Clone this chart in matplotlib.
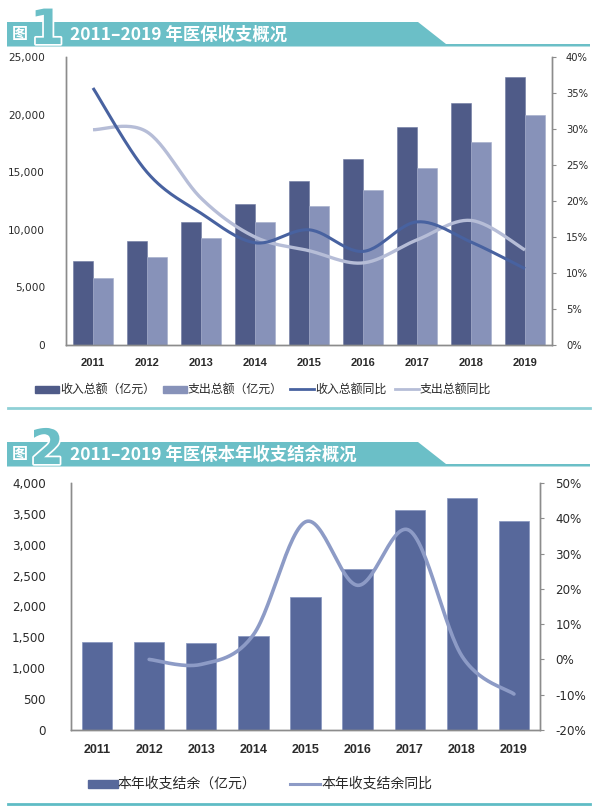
import numpy as np
import matplotlib
matplotlib.use("Agg")
import matplotlib.pyplot as plt
from matplotlib.patches import Polygon, Rectangle
from matplotlib.lines import Line2D
from matplotlib.ticker import FuncFormatter, MultipleLocator
import matplotlib.patheffects as pe

plt.rcParams['font.family'] = ['Noto Sans CJK SC', 'DejaVu Sans']

# ---------------- data ----------------
years = ['2011', '2012', '2013', '2014', '2015', '2016', '2017', '2018', '2019']
income = [7300, 9060, 10710, 12210, 14240, 16120, 18950, 21040, 23290]
expense = [5850, 7610, 9260, 10710, 12070, 13480, 15340, 17590, 19940]
income_yoy = [35.7, 24.0, 18.3, 14.2, 16.0, 13.0, 17.1, 14.3, 10.6]
expense_yoy = [29.9, 29.6, 20.4, 15.0, 13.1, 11.4, 14.6, 17.3, 13.2]

surplus = [1430, 1430, 1410, 1530, 2150, 2600, 3570, 3760, 3390]
surplus_yoy = [None, 0.0, -1.4, 7.0, 39.0, 21.0, 36.5, 1.0, -9.8]

title1 = '2011–2019 年医保收支概况'
title2 = '2011–2019 年医保本年收支结余概况'
leg1 = ['收入总额（亿元）', '支出总额（亿元）', '收入总额同比', '支出总额同比']
leg2 = ['本年收支结余（亿元）', '本年收支结余同比']

# ---------------- style ----------------
TEAL = '#6bbfc7'
DARK = '#4f5b88'
LIGHT = '#8792b9'
LINE_INC = '#4862a0'
LINE_EXP = '#b6bdd7'
BAR2 = '#57689b'
LINE2 = '#8d9bc6'
AXC = '#8c8c8c'
TXT = '#2a2a2a'

W, H = 600, 811
fig = plt.figure(figsize=(W / 100, H / 100), dpi=100)


def smooth(xs, ys, n=30):
    """Excel-like smoothed line (Catmull-Rom Bezier) through the points."""
    xs = np.asarray(xs, float)
    ys = np.asarray(ys, float)
    P = np.column_stack([xs, ys])
    out = []
    m = len(P)
    for i in range(m - 1):
        p0 = P[i - 1] if i > 0 else P[i]
        p1 = P[i]
        p2 = P[i + 1]
        p3 = P[i + 2] if i + 2 < m else P[i + 1]
        c1 = p1 + (p2 - p0) / 6.0
        c2 = p2 - (p3 - p1) / 6.0
        t = np.linspace(0, 1, n)[:, None]
        seg = ((1 - t) ** 3) * p1 + 3 * ((1 - t) ** 2) * t * c1 + 3 * (1 - t) * t ** 2 * c2 + t ** 3 * p2
        out.append(seg if i == 0 else seg[1:])
    s = np.vstack(out)
    return s[:, 0], s[:, 1]


def fig_rect(x0, y0, x1, y1):
    return [x0 / W, 1 - y1 / H, (x1 - x0) / W, (y1 - y0) / H]


def style_axes(ax, axr):
    for a in (ax, axr):
        a.spines['top'].set_visible(False)
        for s in ('left', 'right', 'bottom'):
            a.spines[s].set_color(AXC)
            a.spines[s].set_linewidth(1.0)
    ax.tick_params(axis='y', length=0, colors=TXT)
    ax.tick_params(axis='x', length=0, colors=TXT)
    axr.tick_params(axis='y', length=3, direction='out', color=AXC, colors=TXT)


# ---------------- chart 1 ----------------
x = np.arange(len(years))
ax1 = fig.add_axes(fig_rect(66, 57, 552, 345))
bw = 0.365
ax1.bar(x - bw / 2, income, width=bw, color=DARK, edgecolor='#6d78a0', linewidth=0.4, zorder=2)
ax1.bar(x + bw / 2, expense, width=bw, color=LIGHT, edgecolor='#a3acca', linewidth=0.4, zorder=2)
ax1.set_xlim(-0.5, len(years) - 0.5)
ax1.set_ylim(0, 25000)
ax1.yaxis.set_major_locator(MultipleLocator(5000))
ax1.yaxis.set_major_formatter(FuncFormatter(lambda v, p: f'{int(v):,}'))
ax1.set_xticks(x)
ax1.set_xticklabels(years, fontfamily='Liberation Sans', fontweight='bold', fontsize=8)
for lab in ax1.get_yticklabels():
    lab.set_fontfamily('DejaVu Sans')
    lab.set_fontsize(7.6)
ax1.tick_params(axis='y', pad=15)
ax1.tick_params(axis='x', pad=9)

ax1r = ax1.twinx()
ax1r.set_ylim(0, 40)
ax1r.yaxis.set_major_locator(MultipleLocator(5))
ax1r.yaxis.set_major_formatter(FuncFormatter(lambda v, p: f'{int(round(v))}%'))
sx, sy = smooth(x, expense_yoy)
ax1r.plot(sx, sy, color=LINE_EXP, lw=2.4, solid_capstyle='butt', zorder=3)
sx, sy = smooth(x, income_yoy)
ax1r.plot(sx, sy, color=LINE_INC, lw=2.2, solid_capstyle='butt', zorder=4)
for lab in ax1r.get_yticklabels():
    lab.set_fontfamily('DejaVu Sans')
    lab.set_fontsize(7.2)
ax1r.tick_params(axis='y', pad=7)
style_axes(ax1, ax1r)

# ---------------- chart 2 ----------------
ax2 = fig.add_axes(fig_rect(71, 483, 540, 730))
x2 = np.arange(len(years))
ax2.bar(x2, surplus, width=0.58, color=BAR2, edgecolor='#8594bf', linewidth=0.5, zorder=2)
ax2.set_xlim(-0.5, len(years) - 0.5)
ax2.set_ylim(0, 4000)
ax2.yaxis.set_major_locator(MultipleLocator(500))
ax2.yaxis.set_major_formatter(FuncFormatter(lambda v, p: f'{int(v):,}'))
ax2.set_xticks(x2)
ax2.set_xticklabels(years, fontfamily='Liberation Sans', fontweight='bold', fontsize=9)
for lab in ax2.get_yticklabels():
    lab.set_fontfamily('DejaVu Sans')
    lab.set_fontsize(8.6)
ax2.tick_params(axis='y', pad=18)
ax2.tick_params(axis='x', pad=10)

ax2r = ax2.twinx()
ax2r.set_ylim(-20, 50)
ax2r.yaxis.set_major_locator(MultipleLocator(10))
ax2r.yaxis.set_major_formatter(FuncFormatter(lambda v, p: f'{int(round(v))}%'))
gx = [xi for xi, v in zip(x2, surplus_yoy) if v is not None]
gy = [v for v in surplus_yoy if v is not None]
sx, sy = smooth(gx, gy)
ax2r.plot(sx, sy, color=LINE2, lw=2.6, solid_capstyle='round', zorder=3)
for lab in ax2r.get_yticklabels():
    lab.set_fontfamily('DejaVu Sans')
    lab.set_fontsize(8.6)
ax2r.tick_params(axis='y', pad=8)
style_axes(ax2, ax2r)

# ---------------- overlay: title bars, legends, separators ----------------
ov = fig.add_axes([0, 0, 1, 1], zorder=10)
ov.set_xlim(0, W)
ov.set_ylim(H, 0)
ov.axis('off')
ov.patch.set_alpha(0)


def title_bar(y0, num, text):
    y1 = y0 + 24.5
    poly = Polygon([(7, y0), (418, y0), (446, y1 - 2.5), (590, y1 - 2.5), (590, y1), (7, y1)],
                   closed=True, facecolor=TEAL, edgecolor='none')
    ov.add_patch(poly)
    ov.text(20, y0 + 12.5, '图', color='white', fontsize=11.5, fontweight='bold',
            ha='center', va='center')
    ov.text(47, y1 - 2.5, num, color=TEAL, fontsize=35, fontweight='heavy',
            fontfamily='DejaVu Sans', ha='center', va='baseline',
            path_effects=[pe.withStroke(linewidth=2.5, foreground='white')])
    ov.text(70, y0 + 12.5, text, color='white', fontsize=12.5, fontweight='bold',
            ha='left', va='center')


title_bar(22, '1', title1)
title_bar(442, '2', title2)

# separators
ov.add_line(Line2D([8, 590], [408, 408], color='#8fd0d6', lw=2))
ov.add_line(Line2D([8, 590], [804, 804], color='#5fbcc5', lw=2))

# legend 1
ly = 389
ov.add_patch(Rectangle((35, ly - 3.5), 24, 7, color=DARK))
ov.text(60, ly, leg1[0], fontsize=8.6, color=TXT, va='center', ha='left', fontweight='medium')
ov.add_patch(Rectangle((163, ly - 3.5), 24, 7, color=LIGHT))
ov.text(188, ly, leg1[1], fontsize=8.6, color=TXT, va='center', ha='left', fontweight='medium')
ov.add_line(Line2D([290, 314], [ly, ly], color=LINE_INC, lw=2))
ov.text(315, ly, leg1[2], fontsize=8.6, color=TXT, va='center', ha='left', fontweight='medium')
ov.add_line(Line2D([395, 419], [ly, ly], color=LINE_EXP, lw=2))
ov.text(420, ly, leg1[3], fontsize=8.6, color=TXT, va='center', ha='left', fontweight='medium')

# legend 2
ly2 = 784
ov.add_patch(Rectangle((88, ly2 - 4), 30, 8, color=BAR2))
ov.text(118, ly2, leg2[0], fontsize=10, color=TXT, va='center', ha='left', fontweight='medium')
ov.add_line(Line2D([290, 320], [ly2, ly2], color=LINE2, lw=2.2))
ov.text(321, ly2, leg2[1], fontsize=10, color=TXT, va='center', ha='left', fontweight='medium')

fig.savefig('out.png', dpi=100)
